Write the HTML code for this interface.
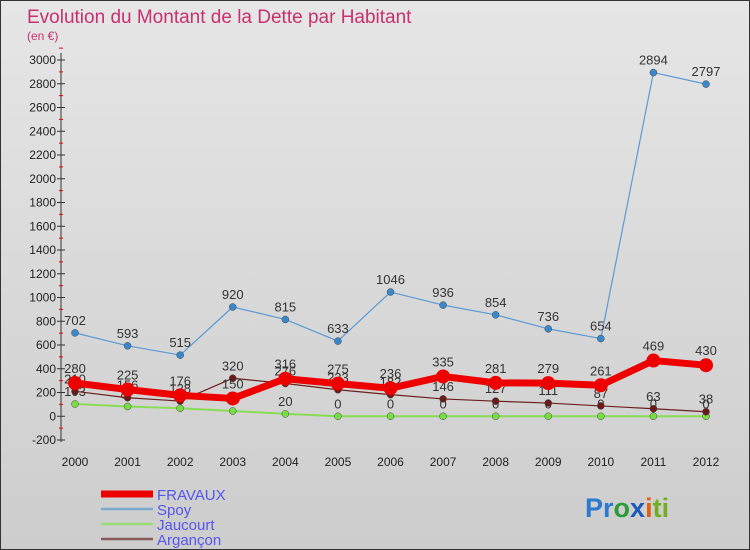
<!DOCTYPE html>
<html><head><meta charset="utf-8"><style>
body{margin:0}
#wrap{position:relative;width:748px;height:548px;border:1px solid #333;background:linear-gradient(#e6e6e6,#cdcdcd);font-family:"Liberation Sans",sans-serif;overflow:hidden}
</style></head><body>
<div id="wrap">
<svg id="c" width="748" height="548"></svg>
</div>
<script>
const years=[2000,2001,2002,2003,2004,2005,2006,2007,2008,2009,2010,2011,2012];
const fravaux=[280,225,176,150,316,275,236,335,281,279,261,469,430];
const spoy=[702,593,515,920,815,633,1046,936,854,736,654,2894,2797];
const jaucourt=[103,82,67,44,20,0,0,0,0,0,0,0,0];
const argancon=[210,156,128,320,276,223,182,146,127,111,87,63,38];
const yTicks=[-200,0,200,400,600,800,1000,1200,1400,1600,1800,2000,2200,2400,2600,2800,3000];
const NS="http://www.w3.org/2000/svg";
const svg=document.getElementById('c');
const x=i=>74+i*(631/12);
const y=v=>415.25-v*0.11875;
function mk(t,a,p){const e=document.createElementNS(NS,t);for(const k in a)e.setAttribute(k,a[k]);(p||svg).appendChild(e);return e;}
let t=mk('text',{x:26,y:22,fill:'#c8306e','font-size':19});t.textContent='Evolution du Montant de la Dette par Habitant';


t=mk('text',{x:26,y:39,fill:'#c8306e','font-size':12});t.textContent='(en €)';


let ax=mk('line',{x1:60,y1:52,x2:60,y2:441,stroke:'#333'});


yTicks.forEach(v=>{
 mk('line',{x1:56,y1:y(v),x2:64,y2:y(v),stroke:'#333'});
 mk('line',{x1:58,y1:y(v+100),x2:62,y2:y(v+100),stroke:'#e00'});
 const l=mk('text',{x:55,y:y(v)+4,'text-anchor':'end','font-size':12,fill:'#222'});l.textContent=v;
 
 
});
years.forEach((yr,i)=>{
 const l=mk('text',{x:x(i),y:465,'text-anchor':'middle','font-size':12,fill:'#222'});l.textContent=yr;
 
 
});
function series(arr,color,w,r,dot,name,labelDy){
 const g=mk('g',{});
 
 
 mk('polyline',{points:arr.map((v,i)=>x(i)+','+y(v)).join(' '),fill:'none',stroke:color,'stroke-width':w,'stroke-linejoin':'round'},g);
 arr.forEach((v,i)=>{
  const c=mk('circle',{cx:x(i),cy:y(v),r:r,fill:dot,stroke:w>3?'none':'#444','stroke-width':0.5},g);
  
  
  const l=mk('text',{x:x(i),y:y(v)-labelDy,'text-anchor':'middle','font-size':13,fill:'#333'},g);l.textContent=v;
  
  
 });
}
series(jaucourt,'#88dd55',2,3.5,'#77dd44','jaucourt',8);
series(argancon,'#6b2020',1.2,3.5,'#6b1a1a','argancon',8);
series(spoy,'#5a9ad6',1.2,3.5,'#3a88cc','spoy',8);
series(fravaux,'#ee0000',7,7,'#ee0000','fravaux',10);
const leg=[['FRAVAUX','#ee0000',7],['Spoy','#7aaad0',2.5],['Jaucourt','#99dd77',2.5],['Argançon','#8a5a5a',2.5]];
leg.forEach((e,i)=>{
 const yy=493+i*15;
 const ln=mk('line',{x1:100,y1:yy,x2:152,y2:yy,stroke:e[1],'stroke-width':e[2]});
 
 
 const l=mk('text',{x:156,y:yy+6,'font-size':15,fill:'#5555ee'});l.textContent=e[0];
 
 
});
const lg=mk('text',{x:584,y:516,'font-size':27,'font-weight':'bold'});


[['Pr','#2a7ad0'],['o','#2a9a3a'],['x','#1a5ab8'],['i','#e06010'],['ti','#70b020']].forEach(p=>{const s=mk('tspan',{fill:p[1]},lg);s.textContent=p[0];});
</script>
</body></html>
